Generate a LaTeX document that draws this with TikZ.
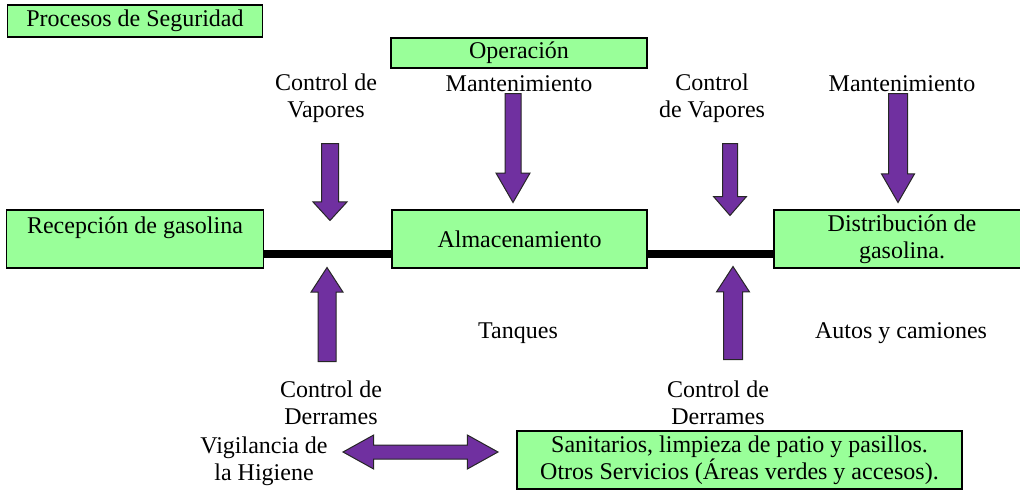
\documentclass[tikz,border=0pt]{standalone}
\usepackage{fontspec}
\setmainfont{Liberation Serif}
\usetikzlibrary{shapes.arrows}
\definecolor{verde}{HTML}{99FF99}
\definecolor{morado}{HTML}{7030A0}

\begin{document}
\begin{tikzpicture}[x=1pt,y=-1pt]
\tikzstyle{caja}=[rectangle, draw, fill=verde, line width=1.2pt, inner sep=0pt,
    align=center, font=\fontsize{24}{27}\selectfont]
\tikzstyle{texto}=[align=center, inner sep=0pt, font=\fontsize{24}{27}\selectfont]
\tikzstyle{flecha}=[single arrow, draw=black!85, fill=morado, line width=1pt, anchor=tail,
    inner xsep=0pt, inner ysep=8pt, single arrow head extend=8.5pt]
\tikzstyle{tubo}=[line width=8pt]

\useasboundingbox (0,0) rectangle (1020,491);

% cajas
\node[caja, minimum width=255pt, minimum height=32pt] (seg) at (135,21) {Procesos de Seguridad};
\node[caja, minimum width=256pt, minimum height=30pt] (oper) at (519,53) {Operación};
\node[caja, minimum width=257pt, minimum height=58pt] (recep) at (135,239) {Recepción de gasolina\\ ~};
\node[caja, minimum width=255pt, minimum height=58pt] (alm) at (519.5,239) {Almacenamiento};
\node[caja, minimum width=256pt, minimum height=58pt] (dist) at (902,239) {Distribución de\\gasolina.};
\node[caja, minimum width=445pt, minimum height=58pt] (sanit) at (739.5,460)
    {Sanitarios, limpieza de patio y pasillos.\\Otros Servicios (Áreas verdes y accesos).};

% textos
\node[texto] (cv1) at (326,98) {Control de\\Vapores};
\node[texto] (mant1) at (519,84) {Mantenimiento};
\node[texto] (cv2) at (712,98) {Control\\de Vapores};
\node[texto] (mant2) at (902,84) {Mantenimiento};
\node[texto] (tanq) at (518,333) {Tanques};
\node[texto] (autos) at (901,333) {Autos y camiones};
\node[texto] (cd1) at (331,403) {Control de\\Derrames};
\node[texto] (cd2) at (718,403) {Control de\\Derrames};
\node[texto] (vig) at (264,461) {Vigilancia de\\la Higiene};

% tuberias
\draw[tubo] ([yshift=-15pt]recep.east) -- ([yshift=-15pt]alm.west);
\draw[tubo] ([yshift=-15pt]alm.east) -- ([yshift=-15pt]dist.west);

% flechas
\node[flecha, rotate=-90, minimum height=77pt, single arrow tip angle=85] (f1) at (330,143) {};
\node[flecha, rotate=90, minimum height=94pt, inner ysep=8.5pt, single arrow head extend=7pt,
    single arrow tip angle=66] (f2) at (327,362) {};
\node[flecha, rotate=-90, minimum height=109pt, inner ysep=7.5pt, single arrow head extend=9pt,
    single arrow tip angle=60] (f3) at (513,93) {};
\node[flecha, rotate=-90, minimum height=72pt, inner ysep=7pt, single arrow head extend=9pt,
    single arrow tip angle=82] (f4) at (730,143) {};
\node[flecha, rotate=90, minimum height=93pt, inner ysep=9pt, single arrow head extend=7pt,
    single arrow tip angle=66] (f5) at (733,360) {};
\node[flecha, rotate=-90, minimum height=109pt, inner ysep=9pt, single arrow head extend=7pt,
    single arrow tip angle=60] (f6) at (898,93) {};
\node[double arrow, draw=black!85, fill=morado, line width=1pt, inner xsep=0pt, inner ysep=6.5pt,
    minimum height=155pt, double arrow head extend=10pt,
    double arrow tip angle=58] (f7) at (420.5,452) {};

\end{tikzpicture}
\end{document}
